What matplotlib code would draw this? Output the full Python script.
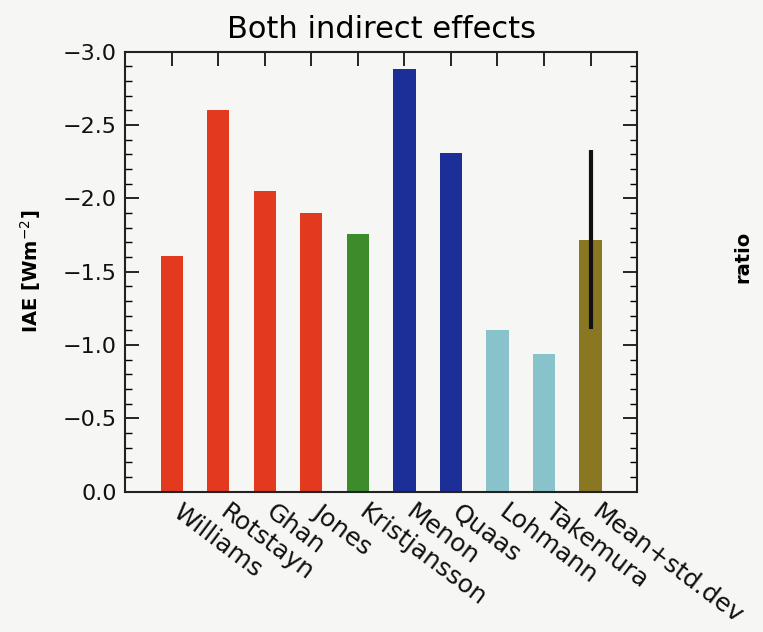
import matplotlib
matplotlib.use("Agg")
import matplotlib.pyplot as plt
from matplotlib.ticker import MultipleLocator, FuncFormatter

# Indirect aerosol effect (IAE) per model, W m-2
models = ["Williams", "Rotstayn", "Ghan", "Jones", "Kristjansson",
          "Menon", "Quaas", "Lohmann", "Takemura", "Mean+std.dev"]
iae = [-1.61, -2.60, -2.05, -1.90, -1.76, -2.88, -2.31, -1.10, -0.94, -1.72]
iae_std = 0.61
bar_colors = ["#e2391f", "#e2391f", "#e2391f", "#e2391f", "#3c8c2c",
              "#1c2e98", "#1c2e98", "#88c3cc", "#88c3cc", "#8a7722"]

plt.rcParams["font.family"] = ["DejaVu Sans"]
page = "#f6f6f4"

fig = plt.figure(figsize=(7.63, 6.32), dpi=100, facecolor=page)
ax = fig.add_axes([0.164, 0.222, 0.671, 0.696], facecolor=page)

x = list(range(1, len(models) + 1))
ax.bar(x, iae, width=0.48, color=bar_colors, zorder=2)
# error bar on the ensemble mean
ax.errorbar(x[-1], iae[-1], yerr=iae_std, fmt="none", ecolor="#111111",
            elinewidth=3.0, capsize=0, zorder=3)

ax.set_xlim(0, 11)
ax.set_ylim(0, -3.0)
ax.yaxis.set_major_locator(MultipleLocator(0.5))
ax.yaxis.set_minor_locator(MultipleLocator(0.1))
ax.yaxis.set_major_formatter(
    FuncFormatter(lambda v, pos: f"{v:.1f}".replace("-", "\u2212")))
ax.set_xticks(x)
ax.set_xticklabels([])

ax.tick_params(axis="y", which="major", direction="in", length=10, width=1.2,
               left=True, right=True, labelsize=16, pad=6, labelcolor="#111111")
ax.tick_params(axis="y", which="minor", direction="in", length=5, width=1.0,
               left=True, right=True)
ax.tick_params(axis="x", which="major", direction="in", length=10, width=1.2,
               top=True, bottom=False)
for s in ax.spines.values():
    s.set_linewidth(1.5)
    s.set_color("#222222")

# rotated model names below the axis
for xi, name in zip(x, models):
    ax.annotate(name, xy=(xi, 0), xycoords="data", xytext=(3, -13),
                textcoords="offset points", rotation=-37, rotation_mode="anchor",
                ha="left", va="center", fontsize=18, color="#111111")

ax.set_ylabel("IAE [Wm$^{-2}$]", fontsize=14, fontweight="bold", labelpad=14)
ax.set_title("Both indirect effects", fontsize=22, pad=10)

fig.text(0.974, 0.593, "ratio", rotation=90, fontsize=14, fontweight="bold",
         ha="center", va="center")

fig.savefig("out.png", dpi=100, facecolor=page)
